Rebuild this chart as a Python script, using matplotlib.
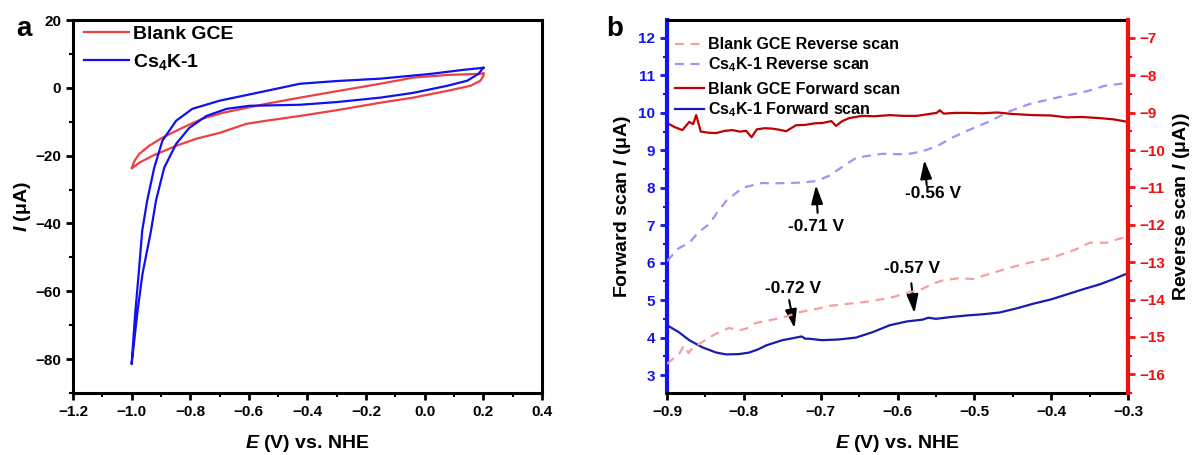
import numpy as np
import matplotlib
matplotlib.use("Agg")
import matplotlib.pyplot as plt
from matplotlib.ticker import MultipleLocator

plt.rcParams['font.family'] = ['Liberation Sans', 'DejaVu Sans']
plt.rcParams['font.weight'] = 'bold'
plt.rcParams['mathtext.fontset'] = 'custom'
plt.rcParams['mathtext.rm'] = 'Liberation Sans:bold'
plt.rcParams['mathtext.it'] = 'Liberation Sans:italic:bold'
plt.rcParams['mathtext.bf'] = 'Liberation Sans:bold'

# ---- (a) cyclic voltammograms: E (V), I (uA), closed loops ----
cv_blank_E = [0.200, 0.200, 0.190, 0.156, 0.077, -0.040, -0.152, -0.300, -0.426, -0.540,
              -0.608, -0.700, -0.779, -0.848, -0.930, -0.974, -1.000, -0.990, -0.974,
              -0.940, -0.895, -0.827, -0.758, -0.690, -0.608, -0.540, -0.426, -0.300,
              -0.152, -0.040, 0.077, 0.180, 0.200]
cv_blank_I = [4.2, 3.5, 2.1, 0.6, -0.9, -2.9, -4.4, -6.6, -8.3, -9.7,
              -10.6, -13.3, -15.0, -17.1, -20.1, -22.1, -23.8, -21.5, -19.5,
              -17.1, -14.7, -11.8, -9.1, -7.4, -5.9, -4.7, -2.9, -1.0,
              1.2, 3.0, 3.8, 4.1, 4.2]

cv_cs4k_E = [0.200, 0.183, 0.145, 0.077, -0.040, -0.152, -0.300, -0.426, -0.598, -0.676,
             -0.745, -0.803, -0.848, -0.889, -0.917, -0.934, -0.963, -0.981, -1.000,
             -0.988, -0.976, -0.964, -0.947, -0.923, -0.895, -0.848, -0.793, -0.700,
             -0.540, -0.426, -0.300, -0.152, 0.019, 0.132, 0.200]
cv_cs4k_I = [5.9, 4.1, 2.1, 0.6, -1.5, -2.9, -4.2, -5.0, -5.3, -6.2,
             -8.3, -11.8, -16.5, -23.6, -33.3, -42.2, -54.9, -66.7, -81.5,
             -66.7, -54.9, -42.2, -33.3, -23.6, -15.6, -9.7, -6.2, -3.8,
             -0.9, 1.2, 2.0, 2.7, 4.1, 5.3, 5.9]

# ---- (b) forward scans (left axis, uA) ----
fwd_blank_E = [-0.900, -0.890, -0.880, -0.871, -0.866, -0.862, -0.856, -0.846, -0.836, -0.825,
               -0.815, -0.805, -0.797, -0.790, -0.783, -0.773, -0.763, -0.754, -0.745, -0.732,
               -0.720, -0.708, -0.698, -0.686, -0.680, -0.672, -0.663, -0.646, -0.630, -0.610,
               -0.592, -0.575, -0.562, -0.549, -0.545, -0.540, -0.525, -0.510, -0.490, -0.470,
               -0.450, -0.424, -0.400, -0.380, -0.360, -0.337, -0.320, -0.300]
fwd_blank_I = [9.73, 9.62, 9.54, 9.76, 9.70, 9.94, 9.50, 9.47, 9.46, 9.52,
               9.54, 9.50, 9.52, 9.35, 9.56, 9.59, 9.58, 9.55, 9.51, 9.67,
               9.68, 9.72, 9.73, 9.78, 9.65, 9.78, 9.86, 9.92, 9.91, 9.94,
               9.92, 9.92, 9.96, 10.00, 10.07, 9.98, 10.00, 10.00, 9.99, 10.01,
               9.97, 9.94, 9.93, 9.88, 9.89, 9.86, 9.83, 9.76]

fwd_cs4k_E = [-0.900, -0.885, -0.871, -0.854, -0.836, -0.823, -0.806, -0.793, -0.782, -0.771,
              -0.750, -0.732, -0.725, -0.720, -0.715, -0.698, -0.676, -0.654, -0.633, -0.610,
              -0.588, -0.567, -0.560, -0.550, -0.530, -0.510, -0.490, -0.467, -0.445, -0.424,
              -0.400, -0.380, -0.360, -0.337, -0.320, -0.300]
fwd_cs4k_I = [4.33, 4.15, 3.93, 3.74, 3.60, 3.55, 3.56, 3.60, 3.68, 3.79,
              3.93, 4.00, 4.03, 3.97, 3.97, 3.93, 3.95, 4.00, 4.14, 4.33,
              4.43, 4.48, 4.53, 4.50, 4.55, 4.59, 4.62, 4.67, 4.78, 4.90,
              5.02, 5.15, 5.28, 5.42, 5.55, 5.72]

# ---- (b) reverse scans (right axis, uA) ----
rev_blank_E = [-0.900, -0.892, -0.884, -0.878, -0.872, -0.866, -0.858, -0.850, -0.841, -0.830,
               -0.819, -0.808, -0.797, -0.785, -0.771, -0.756, -0.741, -0.730, -0.719, -0.705,
               -0.689, -0.672, -0.654, -0.637, -0.620, -0.605, -0.594, -0.580, -0.567, -0.555,
               -0.540, -0.520, -0.502, -0.480, -0.454, -0.432, -0.400, -0.367, -0.350, -0.328,
               -0.300]
rev_blank_I = [-15.72, -15.58, -15.45, -15.23, -15.43, -15.28, -15.19, -15.08, -14.97, -14.85,
               -14.76, -14.83, -14.78, -14.63, -14.57, -14.51, -14.43, -14.35, -14.30, -14.25,
               -14.17, -14.13, -14.09, -14.05, -13.99, -13.93, -13.86, -13.78, -13.71, -13.58,
               -13.48, -13.43, -13.45, -13.31, -13.15, -13.03, -12.89, -12.65, -12.48, -12.48,
               -12.30]

rev_cs4k_E = [-0.900, -0.885, -0.871, -0.858, -0.845, -0.835, -0.823, -0.812, -0.802, -0.790,
              -0.776, -0.760, -0.741, -0.725, -0.706, -0.689, -0.672, -0.654, -0.637, -0.620,
              -0.600, -0.585, -0.567, -0.548, -0.530, -0.510, -0.480, -0.454, -0.430, -0.400,
              -0.377, -0.354, -0.330, -0.300]
rev_cs4k_I = [-12.97, -12.63, -12.48, -12.18, -11.98, -11.68, -11.36, -11.18, -11.01, -10.95,
              -10.88, -10.89, -10.88, -10.87, -10.83, -10.69, -10.45, -10.21, -10.15, -10.10,
              -10.11, -10.10, -10.03, -9.89, -9.68, -9.49, -9.23, -8.96, -8.78, -8.63,
              -8.53, -8.43, -8.28, -8.20]

# peak markers: label, arrow tip (E, I) and arrow tail (E, I), left-axis units
peak_labels = ['-0.71 V', '-0.56 V', '-0.72 V', '-0.57 V']
peak_tip = [(-0.706, 8.07), (-0.565, 8.74), (-0.734, 4.25), (-0.578, 4.65)]
peak_tail = [(-0.704, 7.33), (-0.562, 8.07), (-0.741, 5.00), (-0.582, 5.45)]
peak_text = [(-0.706, 6.97), (-0.554, 7.86), (-0.736, 5.32), (-0.581, 5.85)]

RED_A = '#ee4040'
BLUE_A = '#1010f0'
DARK_RED = '#c00000'
DARK_BLUE = '#1a1ab0'
PINK = '#f4a0a0'
LIGHT_BLUE = '#9898f4'
AX_BLUE = '#1414f0'
AX_RED = '#f01010'

fig = plt.figure(figsize=(11.92, 4.55), dpi=100)
axa = fig.add_axes([73 / 1192, 62 / 455, 469 / 1192, 373 / 455])
axb = fig.add_axes([667 / 1192, 62 / 455, 461 / 1192, 373 / 455])

# ------------------------- panel a -------------------------
axa.plot(cv_blank_E, cv_blank_I, color=RED_A, lw=1.6, label='Blank GCE')
axa.plot(cv_cs4k_E, cv_cs4k_I, color=BLUE_A, lw=1.6, label='Cs$_4$K-1')
axa.set_xlim(-1.2, 0.4)
axa.set_ylim(-90, 20)
axa.xaxis.set_major_locator(MultipleLocator(0.2))
axa.xaxis.set_minor_locator(MultipleLocator(0.1))
axa.yaxis.set_major_locator(MultipleLocator(20))
axa.yaxis.set_minor_locator(MultipleLocator(10))
axa.tick_params(which='major', direction='out', length=5, width=2, labelsize=11)
axa.tick_params(which='minor', direction='out', length=3, width=1.5)
for s in axa.spines.values():
    s.set_linewidth(2.2)
axa.set_xlabel('$E$ (V) vs. NHE', fontsize=14, fontweight='bold', labelpad=10)
axa.set_ylabel('$I$ (\u03bcA)', fontsize=14, fontweight='bold', labelpad=2)
axa.legend(loc='upper left', frameon=False, fontsize=14, handlelength=2.3,
           handletextpad=0.2, labelspacing=0.45, borderaxespad=0.0,
           bbox_to_anchor=(0.007, 1.007))
fig.text(16 / 1192, 1 - 29 / 455, 'a', fontsize=20, fontweight='bold', va='center')

# ------------------------- panel b -------------------------
axr = axb.twinx()
axb.plot(fwd_blank_E, fwd_blank_I, color=DARK_RED, lw=1.6, label='Blank GCE Forward scan')
axb.plot(fwd_cs4k_E, fwd_cs4k_I, color=DARK_BLUE, lw=1.6, label='Cs$_4$K-1 Forward scan')
axr.plot(rev_blank_E, rev_blank_I, color=PINK, lw=1.6, ls=(0, (4, 3)),
         label='Blank GCE Reverse scan')
axr.plot(rev_cs4k_E, rev_cs4k_I, color=LIGHT_BLUE, lw=1.6, ls=(0, (4, 3)),
         label='Cs$_4$K-1 Reverse scan')

axb.set_xlim(-0.9, -0.3)
axb.set_ylim(2.52, 12.48)
axr.set_ylim(-16.5, -6.52)
axb.xaxis.set_major_locator(MultipleLocator(0.1))
axb.xaxis.set_minor_locator(MultipleLocator(0.05))
axb.yaxis.set_major_locator(MultipleLocator(1))
axb.yaxis.set_minor_locator(MultipleLocator(0.5))
axr.yaxis.set_major_locator(MultipleLocator(1))
axr.yaxis.set_minor_locator(MultipleLocator(0.5))

axb.tick_params(axis='x', which='major', direction='out', length=5, width=2, labelsize=11)
axb.tick_params(axis='x', which='minor', direction='out', length=3, width=1.5)
axr.tick_params(axis='x', which='major', bottom=False, top=True, direction='in',
                length=5, width=2, labelbottom=False)
axr.tick_params(axis='x', which='minor', bottom=False, top=True, direction='in',
                length=3, width=1.5)

axb.tick_params(axis='y', which='major', direction='out', length=5, width=2,
                colors=AX_BLUE, labelsize=11)
axb.tick_params(axis='y', which='minor', direction='out', length=3, width=1.5,
                colors=AX_BLUE)
axr.tick_params(axis='y', which='major', direction='out', length=5, width=2,
                colors=AX_RED, labelsize=11)
axr.tick_params(axis='y', which='minor', direction='out', length=3, width=1.5,
                colors=AX_RED)

for s in axb.spines.values():
    s.set_linewidth(2.2)
axb.spines['right'].set_visible(False)
axb.spines['left'].set_color(AX_BLUE)
axb.spines['left'].set_linewidth(3)
for name in ('left', 'top', 'bottom'):
    axr.spines[name].set_visible(False)
axr.spines['right'].set_color(AX_RED)
axr.spines['right'].set_linewidth(3)

axb.set_xlabel('$E$ (V) vs. NHE', fontsize=14, fontweight='bold', labelpad=10)
axb.set_ylabel('Forward scan $I$ (\u03bcA)', fontsize=14, fontweight='bold', labelpad=4)
axr.set_ylabel('Reverse scan $I$ (\u03bcA))', fontsize=14, fontweight='bold', labelpad=4)

axr.legend(loc='upper left', frameon=False, fontsize=11.5, handlelength=1.8,
           handletextpad=0.3, labelspacing=0.2, borderaxespad=0,
           bbox_to_anchor=(0.003, 0.971))
axb.legend(loc='upper left', frameon=False, fontsize=11.5, handlelength=1.8,
           handletextpad=0.3, labelspacing=0.2, borderaxespad=0,
           bbox_to_anchor=(0.003, 0.851))

for lab, tip, tail, pos in zip(peak_labels, peak_tip, peak_tail, peak_text):
    axb.annotate('', xy=tip, xytext=tail,
                 arrowprops=dict(arrowstyle='-|>,head_length=0.7,head_width=0.22',
                                 color='black', lw=1.5, mutation_scale=16,
                                 shrinkA=0, shrinkB=0))
    axb.text(pos[0], pos[1], lab, fontsize=12.5, fontweight='bold', ha='center', va='center')

fig.text(606 / 1192, 1 - 29 / 455, 'b', fontsize=20, fontweight='bold', va='center')

fig.savefig('out.png', dpi=100)
